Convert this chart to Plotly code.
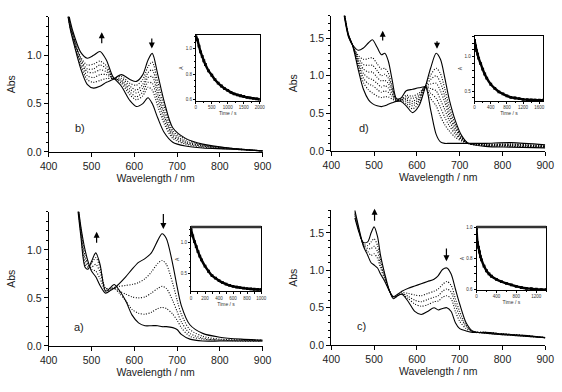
import plotly.graph_objects as go

FONT = "Liberation Sans, Arial, Helvetica, sans-serif"

# ---------------- Panel b (top-left) ----------------
wl_b = [440, 450, 460, 475, 490, 505, 520, 535, 550, 570, 590, 605, 620, 632, 642, 655, 670, 690, 720, 760, 820, 900]
b_initial = [1.55, 1.28, 1.10, 0.86, 0.70, 0.66, 0.68, 0.72, 0.75, 0.80, 0.75, 0.73, 0.80, 0.95, 1.02, 0.80, 0.52, 0.25, 0.14, 0.08, 0.04, 0.01]
b_dotted = [
    [1.56, 1.29, 1.12, 0.89, 0.75, 0.72, 0.74, 0.76, 0.76, 0.78, 0.71, 0.69, 0.75, 0.88, 0.93, 0.72, 0.47, 0.22, 0.13, 0.07, 0.04, 0.01],
    [1.57, 1.31, 1.13, 0.92, 0.79, 0.77, 0.80, 0.80, 0.76, 0.76, 0.68, 0.64, 0.70, 0.82, 0.85, 0.65, 0.41, 0.20, 0.11, 0.07, 0.04, 0.01],
    [1.57, 1.32, 1.15, 0.94, 0.83, 0.82, 0.85, 0.83, 0.76, 0.74, 0.65, 0.61, 0.66, 0.77, 0.78, 0.59, 0.37, 0.18, 0.10, 0.06, 0.04, 0.01],
    [1.58, 1.33, 1.16, 0.96, 0.86, 0.86, 0.90, 0.86, 0.77, 0.73, 0.62, 0.57, 0.62, 0.72, 0.71, 0.53, 0.33, 0.16, 0.09, 0.06, 0.03, 0.01],
    [1.59, 1.34, 1.17, 0.98, 0.90, 0.91, 0.94, 0.89, 0.77, 0.71, 0.59, 0.54, 0.58, 0.67, 0.64, 0.47, 0.29, 0.14, 0.08, 0.05, 0.03, 0.01],
]
b_final = [1.60, 1.36, 1.20, 1.03, 0.97, 1.00, 1.04, 0.95, 0.78, 0.68, 0.53, 0.47, 0.50, 0.56, 0.50, 0.35, 0.20, 0.10, 0.06, 0.04, 0.03, 0.01]

# ---------------- Panel d (top-right) ----------------
wl_d = [430, 440, 450, 463, 475, 487, 496, 507, 517, 525, 533, 542, 552, 562, 575, 590, 605, 620, 632, 645, 655, 665, 675, 690, 705, 720, 760, 820, 900]
d_initial = [1.85, 1.55, 1.40, 1.08, 0.82, 0.68, 0.63, 0.60, 0.59, 0.60, 0.62, 0.64, 0.66, 0.66, 0.60, 0.51, 0.60, 0.86, 1.10, 1.30, 1.22, 0.98, 0.70, 0.40, 0.20, 0.10, 0.06, 0.05, 0.04]
d_dotted = [
    [1.84, 1.54, 1.40, 1.12, 0.91, 0.81, 0.77, 0.73, 0.71, 0.72, 0.72, 0.69, 0.67, 0.67, 0.63, 0.56, 0.64, 0.86, 1.01, 1.10, 1.03, 0.83, 0.60, 0.35, 0.18, 0.10, 0.07, 0.06, 0.05],
    [1.84, 1.54, 1.40, 1.15, 0.97, 0.89, 0.87, 0.82, 0.78, 0.80, 0.78, 0.73, 0.67, 0.67, 0.66, 0.60, 0.67, 0.86, 0.95, 1.00, 0.91, 0.73, 0.53, 0.32, 0.17, 0.10, 0.07, 0.07, 0.05],
    [1.83, 1.54, 1.40, 1.18, 1.03, 0.97, 0.95, 0.90, 0.85, 0.87, 0.84, 0.76, 0.68, 0.68, 0.68, 0.63, 0.69, 0.86, 0.89, 0.90, 0.80, 0.65, 0.47, 0.29, 0.16, 0.10, 0.08, 0.07, 0.06],
    [1.83, 1.54, 1.40, 1.21, 1.09, 1.05, 1.05, 0.98, 0.93, 0.94, 0.90, 0.79, 0.68, 0.68, 0.70, 0.66, 0.72, 0.86, 0.83, 0.80, 0.68, 0.55, 0.41, 0.25, 0.15, 0.10, 0.08, 0.08, 0.06],
    [1.82, 1.53, 1.40, 1.24, 1.15, 1.14, 1.14, 1.07, 1.00, 1.02, 0.97, 0.83, 0.68, 0.68, 0.72, 0.70, 0.74, 0.86, 0.77, 0.70, 0.58, 0.45, 0.34, 0.22, 0.14, 0.10, 0.08, 0.09, 0.06],
    [1.81, 1.53, 1.40, 1.27, 1.22, 1.23, 1.24, 1.16, 1.09, 1.10, 1.04, 0.86, 0.69, 0.69, 0.74, 0.73, 0.77, 0.86, 0.70, 0.60, 0.46, 0.35, 0.27, 0.18, 0.13, 0.10, 0.09, 0.09, 0.07],
]
d_final = [1.80, 1.52, 1.41, 1.34, 1.37, 1.44, 1.48, 1.38, 1.28, 1.30, 1.20, 0.95, 0.70, 0.70, 0.80, 0.82, 0.84, 0.85, 0.55, 0.22, 0.12, 0.10, 0.10, 0.10, 0.10, 0.10, 0.10, 0.11, 0.08]

# ---------------- Panel a (bottom-left) ----------------
wl_a = [465, 475, 485, 492, 500, 510, 520, 533, 545, 553, 565, 580, 595, 610, 625, 640, 655, 665, 675, 690, 700, 710, 730, 760, 800, 850, 900]
a_initial = [1.60, 1.25, 1.00, 0.88, 0.78, 0.72, 0.63, 0.55, 0.58, 0.60, 0.65, 0.72, 0.80, 0.87, 0.91, 0.97, 1.10, 1.17, 1.12, 0.85, 0.62, 0.42, 0.22, 0.13, 0.09, 0.07, 0.06]
a_dotted = [
    [1.57, 1.18, 0.85, 0.82, 0.86, 0.92, 0.82, 0.60, 0.60, 0.61, 0.62, 0.63, 0.64, 0.66, 0.70, 0.77, 0.86, 0.89, 0.85, 0.65, 0.48, 0.33, 0.17, 0.10, 0.07, 0.06, 0.06],
    [1.58, 1.20, 0.90, 0.83, 0.82, 0.85, 0.77, 0.60, 0.60, 0.60, 0.57, 0.54, 0.51, 0.50, 0.51, 0.55, 0.60, 0.62, 0.60, 0.47, 0.36, 0.25, 0.13, 0.08, 0.06, 0.06, 0.05],
    [1.59, 1.22, 0.94, 0.85, 0.80, 0.78, 0.70, 0.58, 0.59, 0.60, 0.55, 0.47, 0.38, 0.34, 0.33, 0.35, 0.39, 0.40, 0.39, 0.33, 0.27, 0.19, 0.10, 0.07, 0.06, 0.05, 0.05],
]
a_final = [1.55, 1.15, 0.82, 0.80, 0.88, 0.97, 0.85, 0.57, 0.61, 0.64, 0.58, 0.47, 0.32, 0.24, 0.21, 0.21, 0.21, 0.20, 0.20, 0.19, 0.17, 0.12, 0.07, 0.05, 0.05, 0.05, 0.05]

# ---------------- Panel c (bottom-right) ----------------
wl_c = [455, 465, 475, 485, 493, 500, 508, 515, 525, 535, 545, 555, 565, 580, 595, 610, 625, 640, 650, 660, 670, 680, 690, 700, 715, 730, 760, 800, 850, 900]
c_initial = [1.80, 1.55, 1.32, 1.20, 1.10, 1.07, 1.03, 0.95, 0.85, 0.73, 0.65, 0.68, 0.72, 0.76, 0.79, 0.82, 0.85, 0.88, 0.93, 1.01, 1.03, 0.95, 0.75, 0.55, 0.30, 0.19, 0.16, 0.14, 0.12, 0.10]
c_dotted = [
    [1.77, 1.52, 1.33, 1.25, 1.20, 1.22, 1.16, 1.03, 0.88, 0.73, 0.64, 0.67, 0.70, 0.69, 0.67, 0.66, 0.69, 0.72, 0.75, 0.81, 0.85, 0.80, 0.62, 0.45, 0.27, 0.18, 0.16, 0.14, 0.12, 0.10],
    [1.75, 1.52, 1.34, 1.29, 1.29, 1.32, 1.25, 1.08, 0.90, 0.74, 0.64, 0.67, 0.69, 0.65, 0.60, 0.58, 0.61, 0.64, 0.66, 0.72, 0.75, 0.71, 0.54, 0.39, 0.25, 0.18, 0.17, 0.15, 0.13, 0.10],
    [1.73, 1.51, 1.35, 1.33, 1.38, 1.42, 1.33, 1.14, 0.92, 0.74, 0.63, 0.66, 0.68, 0.62, 0.55, 0.52, 0.54, 0.58, 0.59, 0.64, 0.66, 0.62, 0.45, 0.32, 0.22, 0.18, 0.17, 0.15, 0.13, 0.10],
]
c_final = [1.70, 1.50, 1.37, 1.38, 1.50, 1.58, 1.45, 1.20, 0.95, 0.74, 0.62, 0.66, 0.68, 0.58, 0.45, 0.41, 0.45, 0.50, 0.47, 0.49, 0.50, 0.45, 0.30, 0.22, 0.19, 0.17, 0.17, 0.15, 0.13, 0.10]

# ---------------- Inset kinetics ----------------
t_b = [0, 50, 100, 150, 200, 250, 300, 400, 500, 600, 700, 800, 900, 1000, 1100, 1200, 1300, 1400, 1500, 1600, 1700, 1800, 1900, 2000]
k_b = [1.10, 1.07, 1.02, 0.975, 0.94, 0.905, 0.875, 0.825, 0.79, 0.755, 0.728, 0.705, 0.685, 0.67, 0.655, 0.643, 0.635, 0.628, 0.622, 0.616, 0.611, 0.607, 0.604, 0.60]

t_d = [0, 25, 50, 75, 100, 150, 200, 250, 300, 400, 500, 600, 700, 800, 900, 1000, 1100, 1200, 1300, 1400, 1500, 1600, 1700]
k_d = [1.24, 1.16, 1.09, 1.04, 0.98, 0.90, 0.82, 0.75, 0.69, 0.60, 0.54, 0.49, 0.46, 0.43, 0.41, 0.40, 0.39, 0.38, 0.375, 0.372, 0.37, 0.368, 0.367]

t_a = [0, 25, 50, 75, 100, 125, 150, 200, 250, 300, 350, 400, 450, 500, 550, 600, 650, 700, 750, 800, 850, 900, 950, 1000]
k_a = [1.21, 1.10, 1.01, 0.93, 0.85, 0.78, 0.72, 0.62, 0.54, 0.47, 0.43, 0.39, 0.36, 0.335, 0.315, 0.30, 0.29, 0.28, 0.272, 0.265, 0.26, 0.255, 0.252, 0.25]

t_c = [0, 20, 40, 60, 80, 100, 150, 200, 250, 300, 400, 500, 600, 700, 800, 900, 1000, 1100, 1200, 1300, 1400]
k_c = [0.99, 0.90, 0.87, 0.84, 0.81, 0.79, 0.75, 0.72, 0.70, 0.685, 0.665, 0.65, 0.64, 0.63, 0.62, 0.613, 0.608, 0.605, 0.602, 0.60, 0.599]

fig = go.Figure()


def add_panel(wl, initial, dotted, final, xa, ya):
    fig.add_trace(go.Scatter(x=wl, y=initial, mode="lines", line=dict(color="black", width=1.1, shape="spline", smoothing=0.8),
                             xaxis=xa, yaxis=ya, showlegend=False, hoverinfo="skip"))
    for cur in dotted:
        fig.add_trace(go.Scatter(x=wl, y=cur, mode="lines", line=dict(color="black", width=1.1, dash="1px,1.6px", shape="spline", smoothing=0.8),
                                 xaxis=xa, yaxis=ya, showlegend=False, hoverinfo="skip"))
    fig.add_trace(go.Scatter(x=wl, y=final, mode="lines", line=dict(color="black", width=1.1, shape="spline", smoothing=0.8),
                             xaxis=xa, yaxis=ya, showlegend=False, hoverinfo="skip"))


def add_inset(t, k, xa, ya):
    fig.add_trace(go.Scatter(x=t, y=k, mode="lines+markers",
                             line=dict(color="black", width=2.4, shape="spline"),
                             marker=dict(symbol="square", size=2.8, color="black"),
                             xaxis=xa, yaxis=ya, showlegend=False, hoverinfo="skip"))


add_panel(wl_b, b_initial, b_dotted, b_final, "x", "y")
add_panel(wl_d, d_initial, d_dotted, d_final, "x2", "y2")
add_panel(wl_a, a_initial, a_dotted, a_final, "x3", "y3")
add_panel(wl_c, c_initial, c_dotted, c_final, "x4", "y4")
add_inset(t_b, k_b, "x5", "y5")
add_inset(t_d, k_d, "x6", "y6")
add_inset(t_a, k_a, "x7", "y7")
add_inset(t_c, k_c, "x8", "y8")

W, H = 562, 392


def px_x(a, b):
    return [a / W, b / W]


def px_y(top, bottom):
    return [(H - bottom) / H, (H - top) / H]


def main_x(dom, anchor):
    return dict(domain=dom, anchor=anchor, range=[400, 900], tick0=400, dtick=100,
                showline=True, linecolor="black", linewidth=1.2, ticks="outside", ticklen=4,
                tickwidth=1, tickcolor="black", showgrid=False, zeroline=False,
                tickfont=dict(family=FONT, size=10.5, color="#222"),
                title=dict(text="Wavelength / nm", font=dict(family=FONT, size=10.5, color="#222"), standoff=0))


def main_y(dom, anchor, top):
    return dict(domain=dom, anchor=anchor, range=[0, top], tick0=0, dtick=0.5, tickformat=".1f",
                showline=True, linecolor="black", linewidth=1.2, ticks="outside", ticklen=4,
                tickwidth=1, tickcolor="black", showgrid=False, zeroline=False,
                minor=dict(dtick=0.1, ticks="outside", ticklen=2, tickwidth=1, tickcolor="black", showgrid=False),
                tickfont=dict(family=FONT, size=10.5, color="#222"),
                title=dict(text="Abs", font=dict(family=FONT, size=10.5, color="#222"), standoff=9))


def inset_x(dom, anchor, rng, dt, mdt):
    return dict(domain=dom, anchor=anchor, range=rng, tick0=0, dtick=dt,
                showline=True, mirror=True, linecolor="black", linewidth=1, ticks="outside", ticklen=2,
                tickwidth=0.8, tickcolor="black", showgrid=False, zeroline=False,
                minor=dict(dtick=mdt, ticks="outside", ticklen=1.2, tickwidth=0.6, tickcolor="black", showgrid=False),
                tickfont=dict(family=FONT, size=4.5, color="#333"),
                title=dict(text="Time / s", font=dict(family=FONT, size=5, color="#333"), standoff=0))


def inset_y(dom, anchor, rng, t0, dt, mdt):
    return dict(domain=dom, anchor=anchor, range=rng, tick0=t0, dtick=dt, tickformat=".1f",
                showline=True, mirror=True, linecolor="black", linewidth=1, ticks="outside", ticklen=2,
                tickwidth=0.8, tickcolor="black", showgrid=False, zeroline=False,
                minor=dict(dtick=mdt, tick0=t0, ticks="outside", ticklen=1.2, tickwidth=0.6, tickcolor="black", showgrid=False),
                tickfont=dict(family=FONT, size=4.5, color="#333"),
                title=dict(text="A", font=dict(family=FONT, size=5, color="#333"), standoff=1))


fig.update_layout(
    width=W, height=H, autosize=False,
    margin=dict(l=0, r=0, t=0, b=0),
    paper_bgcolor="white", plot_bgcolor="white",
    xaxis=main_x(px_x(41, 262), "y"),
    yaxis=main_y(px_y(15, 153), "x", 1.40),
    xaxis2=main_x(px_x(333, 554), "y2"),
    yaxis2=main_y(px_y(14, 152), "x2", 1.80),
    xaxis3=main_x(px_x(41, 262), "y3"),
    yaxis3=main_y(px_y(214, 351), "x3", 1.40),
    xaxis4=main_x(px_x(333, 554), "y4"),
    yaxis4=main_y(px_y(212.7, 350.3), "x4", 1.80),
    xaxis5=inset_x(px_x(193, 259), "y5", [0, 2000], 500, 250),
    yaxis5=inset_y(px_y(34, 101), "x5", [0.587, 1.106], 0.6, 0.2, 0.05),
    xaxis6=inset_x(px_x(481, 552), "y6", [0, 1700], 400, 200),
    yaxis6=inset_y(px_y(34.7, 101), "x6", [0.357, 1.304], 0.5, 0.5, 0.1),
    xaxis7=inset_x(px_x(188, 260.5), "y7", [0, 1000], 200, 100),
    yaxis7=inset_y(px_y(229.7, 295.5), "x7", [0.22, 1.24], 0.5, 0.5, 0.1),
    xaxis8=inset_x(px_x(483, 555), "y8", [0, 1400], 400, 200),
    yaxis8=inset_y(px_y(229.7, 294), "x8", [0.597, 1.0], 0.6, 0.2, 0.05),
)

# panel letters
letters = [("b)", "x", "y", 458, 0.25), ("d)", "x2", "y2", 459, 0.31),
           ("a)", "x3", "y3", 454, 0.20), ("c)", "x4", "y4", 456, 0.25)]
for txt, xr, yr, xv, yv in letters:
    fig.add_annotation(text=txt, xref=xr, yref=yr, x=xv, y=yv, showarrow=False, xanchor="left",
                       font=dict(family=FONT, size=11, color="#222"))

# arrows: (xref, yref, x, y_head, y_tail)
arrows = [("x", "y", 524, 1.24, 1.11), ("x", "y", 641, 1.07, 1.19),
          ("x2", "y2", 520, 1.60, 1.45), ("x2", "y2", 647, 1.36, 1.48),
          ("x3", "y3", 512, 1.19, 1.06), ("x3", "y3", 668, 1.22, 1.39),
          ("x4", "y4", 501, 1.82, 1.64), ("x4", "y4", 669, 1.12, 1.31)]
for xr, yr, xv, yh, yt in arrows:
    fig.add_annotation(xref=xr, yref=yr, x=xv, y=yh, ax=xv, ay=yt, axref=xr, ayref=yr,
                       showarrow=True, arrowhead=2, arrowsize=1, arrowwidth=1.2, arrowcolor="black", text="")

# thicker top border on insets a and c
for xr, yr in [("x7", "y7"), ("x8", "y8")]:
    fig.add_shape(type="line", xref=xr + " domain", yref=yr + " domain", x0=0, x1=1, y0=1, y1=1,
                  line=dict(color="#333", width=2.5))

fig.write_html("out.html")
